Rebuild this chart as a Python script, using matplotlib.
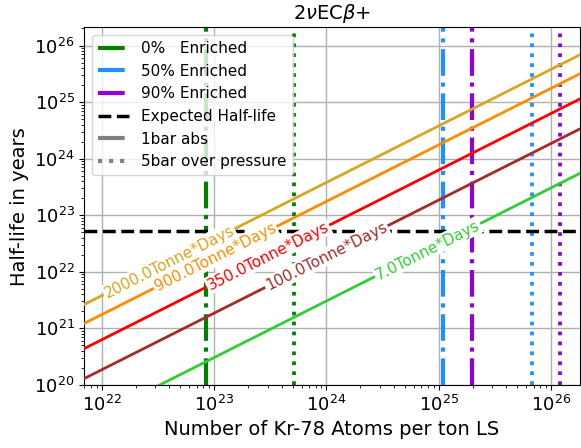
import numpy as np
import matplotlib
matplotlib.use("Agg")
import matplotlib.pyplot as plt
from matplotlib.lines import Line2D

# ---- data ----
exposures = [2000.0, 900.0, 350.0, 100.0, 7.0]             # Tonne*Days
log_ratio = [-0.42, -0.755, -1.20, -1.73, -2.515]            # log10(T_half / N) per exposure
line_colors = ["goldenrod", "darkorange", "red", "brown", "limegreen"]
label_logx = [22.60, 23.01, 23.48, 24.00, 24.90]             # where inline labels sit

enrich_labels = ["0%   Enriched", "50% Enriched", "90% Enriched"]
enrich_colors = ["green", "dodgerblue", "darkviolet"]
atoms_1bar = [8.4e22, 1.09e25, 1.98e25]
atoms_5bar = [5.1e23, 6.7e25, 1.19e26]

expected_half_life = 5.2e22
xlim = (7.0e21, 1.8e26)
ylim = (1e20, 2.1e26)

fig = plt.figure(figsize=(5.81, 4.48), dpi=100)
ax = fig.add_axes([0.1452, 0.1406, 0.8528, 0.7985])
ax.set_xscale("log")
ax.set_yscale("log")
ax.set_xlim(*xlim)
ax.set_ylim(*ylim)

N = np.logspace(np.log10(xlim[0]), np.log10(xlim[1]), 200)
for e, r, c in zip(exposures, log_ratio, line_colors):
    ax.plot(N, N * 10 ** r, color=c, lw=2, zorder=3)

ax.axhline(expected_half_life, color="black", ls="--", lw=2.5, zorder=3)
for a1, a5, c in zip(atoms_1bar, atoms_5bar, enrich_colors):
    ax.axvline(a1, color=c, ls="-.", lw=3, zorder=2)
    ax.axvline(a5, color=c, ls=":", lw=2.7, zorder=2)

ax.grid(True, which="major", color="#b0b0b0", lw=1)
ax.set_axisbelow(True)

# inline labels
fig.canvas.draw()
for e, r, c, lx in zip(exposures, log_ratio, line_colors, label_logx):
    x0 = 10 ** lx
    y0 = x0 * 10 ** r
    p1 = ax.transData.transform((x0, y0))
    p2 = ax.transData.transform((x0 * 10, y0 * 10))
    ang = np.degrees(np.arctan2(p2[1] - p1[1], p2[0] - p1[0]))
    ax.text(x0, y0, f"{e:.1f}Tonne*Days", color=c, fontsize=11, rotation=ang,
            rotation_mode="anchor", ha="center", va="center", zorder=4,
            bbox=dict(boxstyle="square,pad=0.1", fc="white", ec="none"))

ax.tick_params(labelsize=13)
ax.set_xlabel("Number of Kr-78 Atoms per ton LS", fontsize=14)
ax.set_ylabel("Half-life in years", fontsize=14)
ax.set_title(r"2$\nu$EC$\beta$+", fontsize=14)

handles = [Line2D([], [], color=c, ls="-.", lw=3) for c in enrich_colors]
handles += [Line2D([], [], color="black", ls="--", lw=2.5),
            Line2D([], [], color="gray", ls="-.", lw=3),
            Line2D([], [], color="gray", ls=":", lw=3)]
labels = enrich_labels + ["Expected Half-life", "1bar abs", "5bar over pressure"]
ax.legend(handles, labels, loc="upper left", fontsize=11)

fig.savefig("out.png", dpi=100)
